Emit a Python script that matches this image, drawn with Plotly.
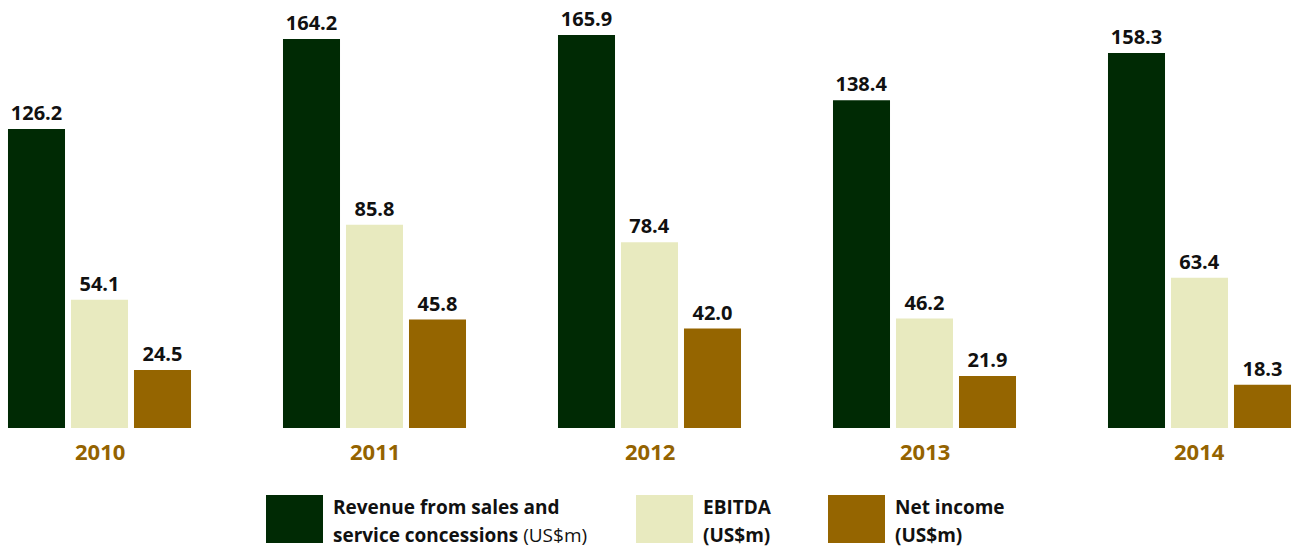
import plotly.graph_objects as go

# Financial highlights, US$ millions
years = ["2010", "2011", "2012", "2013", "2014"]
revenue = [126.2, 164.2, 165.9, 138.4, 158.3]
ebitda = [54.1, 85.8, 78.4, 46.2, 63.4]
net_income = [24.5, 45.8, 42.0, 21.9, 18.3]

series_names = ["Revenue from sales and service concessions", "EBITDA", "Net income"]
colors = ["#002a04", "#e8eabf", "#956500"]
year_color = "#946300"

W, H = 1293, 547
plot_h = 428  # plot area height in px (top margin 0)
FONT = "Open Sans"

fig = go.Figure()
for name, vals, col in zip(series_names, [revenue, ebitda, net_income], colors):
    fig.add_trace(go.Bar(
        x=years, y=vals, name=name,
        marker=dict(color=col, line=dict(width=0)),
        text=[f"{v:.1f}" for v in vals],
        textposition="outside",
        cliponaxis=False,
        textfont=dict(family=FONT, size=20, color="#111111", weight=700),
        showlegend=False,
    ))

# Year labels under each group (category index positions)
annotations = []
for i, y in enumerate(years):
    annotations.append(dict(
        x=i, xref="x", y=(plot_h - 451) / plot_h, yref="paper",
        text=f"<b>{y}</b>", showarrow=False, xanchor="center", yanchor="middle",
        font=dict(family=FONT, size=22, color=year_color),
    ))

# Custom legend: tall swatches with two-line captions
def py(px):
    return (plot_h - px) / plot_h

legend_items = [
    (266, ["<b>Revenue from sales and</b>", "<b>service concessions</b> (US$m)"]),
    (636, ["<b>EBITDA</b>", "<b>(US$m)</b>"]),
    (828, ["<b>Net income</b>", "<b>(US$m)</b>"]),
]
shapes = []
for (x0, lines), col in zip(legend_items, colors):
    shapes.append(dict(
        type="rect", xref="paper", yref="paper",
        x0=x0 / W, x1=(x0 + 57) / W, y0=py(543), y1=py(495),
        fillcolor=col, line=dict(width=0),
    ))
    for i, line in enumerate(lines):
        annotations.append(dict(
            x=(x0 + 65) / W, xref="paper", y=py(507 + 28 * i), yref="paper",
            text=line, showarrow=False, xanchor="left", yanchor="middle",
            font=dict(family=FONT, size=19, color="#111111"),
        ))

fig.update_layout(
    width=W, height=H,
    margin=dict(l=0, r=0, t=0, b=H - plot_h),
    paper_bgcolor="white", plot_bgcolor="white",
    barmode="group", bargap=0.3127, bargroupgap=0.095,
    xaxis=dict(type="category", range=[-99.5 / 275, 4 + 93.5 / 275], showticklabels=False,
               showgrid=False, zeroline=False, showline=False, ticks=""),
    yaxis=dict(range=[0, plot_h / 2.369], visible=False, showgrid=False, zeroline=False),
    annotations=annotations,
    shapes=shapes,
)

fig.write_html("out.html")
